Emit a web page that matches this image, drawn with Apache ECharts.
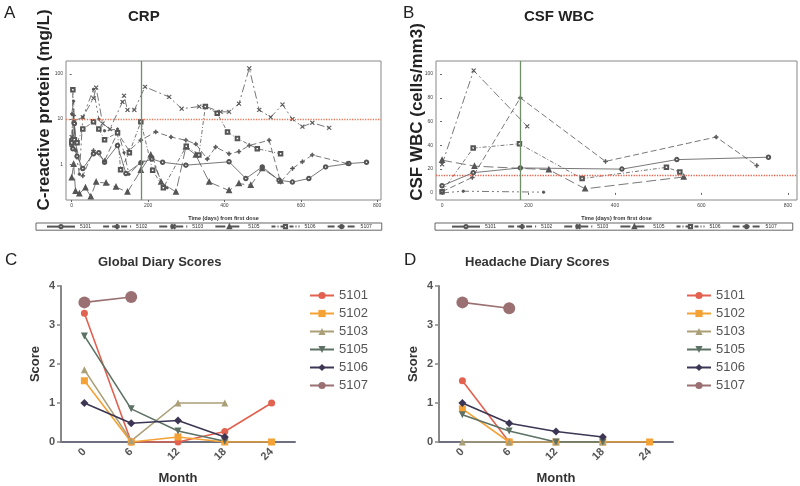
<!DOCTYPE html>
<html>
<head>
<meta charset="utf-8">
<script src="https://cdn.jsdelivr.net/npm/echarts@6/dist/echarts.min.js"></script>
<style>
  html, body { margin: 0; padding: 0; background: #fff; }
  #chart { width: 800px; height: 486px; }
</style>
</head>
<body>
<div id="chart"></div>
<script>
// patients
const ids = ['5101', '5102', '5103', '5105', '5106', '5107'];

// CRP (mg/L) by day from first dose
const crp5101 = [[0,3.4],[3,2.2],[7,8],[14,1.5],[29,0.8],[57,1.7],[71,1.8],[86,1.1],[120,2.6],[142,0.62],[181,1.07],[210,1.3],[238,1.1],[299,0.95],[412,1.13],[456,0.48],[499,0.87],[543,0.44],[578,0.4],[621,0.48],[665,0.87],[726,1.03],[772,1.1]];
const crp5102 = [[0,2.5],[5,12],[10,3],[29,0.55],[57,2],[86,1.2],[120,5],[150,2.0],[181,3.4],[220,5.2],[260,4],[299,3.4],[325,2.8],[355,1.3],[377,2.4],[412,1.7],[438,1.9],[465,2.6],[517,3.4],[547,0.4],[578,0.8],[604,1.13],[630,1.6],[721,1.03]];
const crp5103 = [[0,4],[5,9],[29,11],[57,29],[64,50],[81,8],[100,6],[133,24],[137,33],[146,16],[164,16],[192,52],[255,31],[288,17],[334,19],[351,19],[390,14.5],[412,14.5],[438,22],[465,134],[491,16],[521,11],[552,21],[578,10],[604,6.8],[630,8.3],[674,6.4]];
const crp5105 = [[0,0.5],[5,1],[10,0.25],[20,0.22],[36,0.3],[50,0.19],[64,0.4],[90,0.38],[116,0.31],[146,0.24],[181,0.73],[207,1.6],[234,0.4],[273,0.24],[299,2.4],[325,1.6],[360,0.4],[412,0.26],[438,0.37],[469,0.34],[499,0.8],[547,0.42]];
const crp5106 = [[0,3],[3,45],[7,3.5],[14,3],[29,6],[57,8.7],[71,6],[86,3.5],[120,5],[128,0.75],[151,1.8],[181,8.7],[212,0.73],[240,0.3],[300,2.5],[333,1.6],[350,19],[381,13.5],[408,5.2],[434,3.7],[486,2.2],[547,1.7]];
const crp5107 = [[0,13],[5,25],[10,2],[20,0.6],[29,11],[57,46],[71,10],[86,5.5],[120,6],[137,1.8],[150,0.6],[181,1.1],[212,1.45],[234,0.4],[250,0.3]];

// CSF WBC (cells/mm3) by day
const csf5101 = [[0,6],[72,17],[181,21],[416,20],[543,28],[755,30]];
const csf5102 = [[0,1],[70,13],[181,80],[378,26.5],[634,47],[728,23]];
const csf5103 = [[0,24],[73,103],[197,56]];
const csf5105 = [[0,27.5],[75,22.5],[247,19.5],[331,3.4],[559,13.4]];
const csf5106 = [[0,1],[72,37.7],[179,41.3],[324,12],[519,21.5],[550,17.6]];
const csf5107 = [[0,0],[49,1.4],[235,0.6]];

// diary scores by month
const months = ['0', '6', '12', '18', '24'];
const global5101 = [3.3, 0, 0, 0.27, 1.0];
const global5102 = [1.57, 0, 0.13, 0, 0];
const global5103 = [1.85, 0.03, 1.0, 1.0, null];
const global5105 = [2.72, 0.85, 0.28, 0.02, null];
const global5106 = [1.0, 0.48, 0.55, 0.13, null];
const global5107 = [3.58, 3.72, null, null, null];

const head5101 = [1.57, 0, null, null, null];
const head5102 = [0.85, 0, 0, 0, 0];
const head5103 = [0, 0, 0, 0, null];
const head5105 = [0.7, 0.28, 0, 0, null];
const head5106 = [1.0, 0.48, 0.27, 0.13, null];
const head5107 = [3.58, 3.43, null, null, null];

const crpLimit = 10;
const csfLimit = 15;
const doseDay = 182;

const plus = 'path://M4,0h2v4h4v2h-4v4h-2v-4h-4v-2h4z';
const cross = 'path://M1,0L5,4L9,0L10,1L6,5L10,9L9,10L5,6L1,10L0,9L4,5L0,1z';
const downTri = 'path://M0,0L10,0L5,9z';

const grey = '#555';
const labStyles = [
  { type: 'solid', sym: 'emptyCircle', size: 3.5 },
  { type: [6, 3], sym: plus, size: 4 },
  { type: [8, 3, 2, 3], sym: cross, size: 4 },
  { type: [10, 4], sym: 'emptyTriangle', size: 3.5 },
  { type: [4, 2, 1, 2], sym: 'emptyRect', size: 3.5 },
  { type: [7, 3, 2, 3, 2, 3], sym: 'circle', size: 2.5 }
];
const diaryColors = ['#e2614f', '#f4a235', '#ab9f77', '#5d7164', '#3c3654', '#9a7072'];
const diarySyms = ['circle', 'rect', 'triangle', downTri, 'diamond', 'circle'];
const diarySizes = [7, 7, 7, 7, 8, 12];

const crpData = [crp5101, crp5102, crp5103, crp5105, crp5106, crp5107];
const csfData = [csf5101, csf5102, csf5103, csf5105, csf5106, csf5107];
const globalData = [global5101, global5102, global5103, global5105, global5106, global5107];
const headData = [head5101, head5102, head5103, head5105, head5106, head5107];

const series = [];
function labSeries(prefix, data, idx) {
  ids.forEach((id, i) => {
    const st = labStyles[i];
    series.push({
      name: prefix + id, type: 'line', xAxisIndex: idx, yAxisIndex: idx,
      data: data[i], symbol: st.sym, symbolSize: st.size,
      itemStyle: { color: grey, borderColor: grey, borderWidth: 0.7 },
      lineStyle: { color: grey, width: 0.8, type: st.type },
      animation: false
    });
  });
}
labSeries('a', crpData, 0);
labSeries('b', csfData, 1);
function diarySeries(prefix, data, idx) {
  ids.forEach((id, i) => {
    series.push({
      name: prefix + id, type: 'line', xAxisIndex: idx, yAxisIndex: idx,
      data: data[i], symbol: diarySyms[i], symbolSize: diarySizes[i],
      itemStyle: { color: diaryColors[i] },
      lineStyle: { color: diaryColors[i], width: 1.6 },
      animation: false
    });
  });
}
diarySeries('c', globalData, 2);
diarySeries('d', headData, 3);

// reference lines
series[0].markLine = {
  symbol: 'none', silent: true, label: { show: false }, animation: false,
  data: [
    { yAxis: crpLimit, lineStyle: { color: '#e8785a', type: 'dotted', width: 1.3 } },
    { xAxis: doseDay, lineStyle: { color: '#6f8f66', type: 'solid', width: 1.3 } }
  ]
};
series[6].markLine = {
  symbol: 'none', silent: true, label: { show: false }, animation: false,
  data: [
    { yAxis: csfLimit, lineStyle: { color: '#e8604a', type: 'dotted', width: 1.3 } },
    { xAxis: doseDay, lineStyle: { color: '#6f8f66', type: 'solid', width: 1.3 } }
  ]
};

const tinyLabel = { fontSize: 5, color: '#444', showMinLabel: false, showMaxLabel: false };
const diaryAxisLabel = { fontSize: 11, fontWeight: 'bold', color: '#555', fontFamily: 'Liberation Sans' };

function labLegend(prefix, left, padX) {
  return {
    left: left, top: 223,
    data: ids.map(id => prefix + id),
    formatter: n => n.slice(1),
    borderColor: '#666', borderWidth: 1, padding: [1, padX],
    itemWidth: 28, itemHeight: 4, itemGap: 11,
    textStyle: { fontSize: 5, color: '#333' }
  };
}
function diaryLegend(prefix, left) {
  return {
    orient: 'vertical', left: left, top: 288, padding: 0,
    data: ids.map(id => prefix + id),
    formatter: n => n.slice(1),
    itemWidth: 24, itemHeight: 9, itemGap: 3,
    textStyle: { fontSize: 13, color: '#555', lineHeight: 15, fontFamily: 'Liberation Sans' }
  };
}

const option = {
  backgroundColor: '#fff',
  animation: false,
  title: [
    { text: 'A', left: 4, top: 5, padding: 0, textStyle: { fontSize: 17, fontWeight: 'normal', color: '#222' } },
    { text: 'CRP', left: 128, top: 9, padding: 0, textStyle: { fontSize: 15, fontWeight: 'bold', color: '#222' } },
    { text: 'B', left: 403, top: 5, padding: 0, textStyle: { fontSize: 17, fontWeight: 'normal', color: '#222' } },
    { text: 'CSF WBC', left: 524, top: 9, padding: 0, textStyle: { fontSize: 15, fontWeight: 'bold', color: '#222' } },
    { text: 'C', left: 5, top: 252, padding: 0, textStyle: { fontSize: 17, fontWeight: 'normal', color: '#222' } },
    { text: 'Global Diary Scores', left: 98, top: 256, padding: 0, textStyle: { fontSize: 13, fontWeight: 'bold', color: '#333', fontFamily: 'Liberation Sans' } },
    { text: 'D', left: 404, top: 252, padding: 0, textStyle: { fontSize: 17, fontWeight: 'normal', color: '#222' } },
    { text: 'Headache Diary Scores', left: 465, top: 256, padding: 0, textStyle: { fontSize: 13, fontWeight: 'bold', color: '#333', fontFamily: 'Liberation Sans' } }
  ],
  legend: [
    labLegend('a', 36, 10),
    labLegend('b', 435, 16),
    diaryLegend('c', 309),
    diaryLegend('d', 686)
  ],
  grid: [
    { left: 66, top: 61, width: 315, height: 139, show: true, borderColor: '#888', borderWidth: 1 },
    { left: 436, top: 61, width: 361, height: 139, show: true, borderColor: '#888', borderWidth: 1 },
    { left: 61, top: 286, width: 234, height: 156 },
    { left: 439, top: 286, width: 234, height: 156 }
  ],
  xAxis: [
    { type: 'value', gridIndex: 0, min: -15, max: 810, splitNumber: 4, splitLine: { show: false },
      axisLine: { show: false }, axisTick: { length: 2, lineStyle: { color: '#666' } }, axisLabel: Object.assign({ margin: 3 }, tinyLabel),
      name: 'Time (days) from first dose', nameLocation: 'middle', nameGap: 15,
      nameTextStyle: { fontSize: 5.5, fontWeight: 'bold', color: '#333' } },
    { type: 'value', gridIndex: 1, min: -14, max: 821, splitNumber: 4, splitLine: { show: false },
      axisLine: { show: false }, axisTick: { length: 2, lineStyle: { color: '#666' } }, axisLabel: Object.assign({ margin: 3 }, tinyLabel),
      name: 'Time (days) from first dose', nameLocation: 'middle', nameGap: 15,
      nameTextStyle: { fontSize: 5.5, fontWeight: 'bold', color: '#333' } },
    { type: 'category', gridIndex: 2, data: months, boundaryGap: true,
      axisLine: { lineStyle: { color: '#6e7080', width: 2 } },
      axisTick: { alignWithLabel: true, length: 4, lineStyle: { color: '#6e7080', width: 1.5 } },
      axisLabel: Object.assign({ rotate: 45, margin: 8 }, diaryAxisLabel),
      name: 'Month', nameLocation: 'middle', nameGap: 30,
      nameTextStyle: { fontSize: 13, fontWeight: 'bold', color: '#333', fontFamily: 'Liberation Sans' } },
    { type: 'category', gridIndex: 3, data: months, boundaryGap: true,
      axisLine: { lineStyle: { color: '#6e7080', width: 2 } },
      axisTick: { alignWithLabel: true, length: 4, lineStyle: { color: '#6e7080', width: 1.5 } },
      axisLabel: Object.assign({ rotate: 45, margin: 8 }, diaryAxisLabel),
      name: 'Month', nameLocation: 'middle', nameGap: 30,
      nameTextStyle: { fontSize: 13, fontWeight: 'bold', color: '#333', fontFamily: 'Liberation Sans' } }
  ],
  yAxis: [
    { type: 'log', gridIndex: 0, logBase: 10, min: 0.16, max: 195, splitLine: { show: false },
      axisLine: { show: false }, axisTick: { length: 2, lineStyle: { color: '#666' } },
      axisLabel: Object.assign({ margin: 3 }, tinyLabel) },
    { type: 'value', gridIndex: 1, min: -6, max: 111, splitNumber: 5, splitLine: { show: false },
      axisLine: { show: false }, axisTick: { length: 2, lineStyle: { color: '#666' } },
      axisLabel: Object.assign({ margin: 3 }, tinyLabel) },
    { type: 'value', gridIndex: 2, min: 0, max: 4, interval: 1, splitLine: { show: false },
      axisLine: { show: true, lineStyle: { color: '#888', width: 2 } },
      axisTick: { show: true, length: 4, lineStyle: { color: '#888', width: 1.5 } },
      axisLabel: Object.assign({ margin: 6 }, diaryAxisLabel),
      name: 'Score', nameLocation: 'middle', nameGap: 19,
      nameTextStyle: { fontSize: 13, fontWeight: 'bold', color: '#333', fontFamily: 'Liberation Sans' } },
    { type: 'value', gridIndex: 3, min: 0, max: 4, interval: 1, splitLine: { show: false },
      axisLine: { show: true, lineStyle: { color: '#888', width: 2 } },
      axisTick: { show: true, length: 4, lineStyle: { color: '#888', width: 1.5 } },
      axisLabel: Object.assign({ margin: 6 }, diaryAxisLabel),
      name: 'Score', nameLocation: 'middle', nameGap: 19,
      nameTextStyle: { fontSize: 13, fontWeight: 'bold', color: '#333', fontFamily: 'Liberation Sans' } }
  ],
  graphic: [
    { type: 'text', x: 44, y: 110, rotation: Math.PI / 2,
      style: { text: 'C-reactive protein (mg/L)', align: 'center', verticalAlign: 'middle',
        font: 'bold 17px "Liberation Sans"', fill: '#222' } },
    { type: 'text', x: 417, y: 112, rotation: Math.PI / 2,
      style: { text: 'CSF WBC (cells/mm3)', align: 'center', verticalAlign: 'middle',
        font: 'bold 17px "Liberation Sans"', fill: '#222' } }
  ],
  series: series
};

const chart = echarts.init(document.getElementById('chart'));
chart.setOption(option);
</script>
</body>
</html>
